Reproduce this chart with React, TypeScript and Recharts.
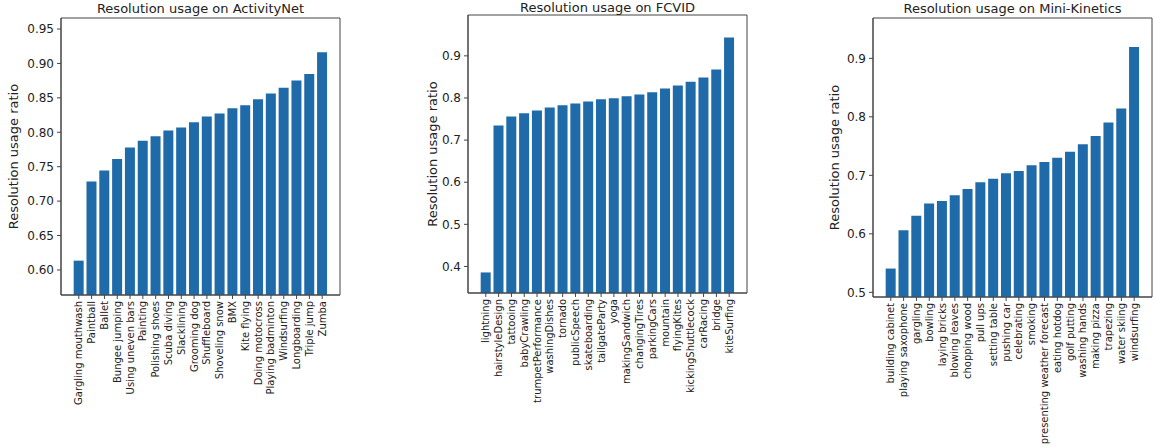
import React from "react";
import { BarChart, Bar, XAxis, YAxis, CartesianGrid } from "recharts";

const activityNetLabels = [
  "Gargling mouthwash", "Paintball", "Ballet", "Bungee jumping", "Using uneven bars",
  "Painting", "Polishing shoes", "Scuba diving", "Slacklining", "Grooming dog",
  "Shuffleboard", "Shoveling snow", "BMX", "Kite flying", "Doing motocross",
  "Playing badminton", "Windsurfing", "Longboarding", "Triple jump", "Zumba",
];
const activityNetValues = [
  0.6135, 0.7284, 0.7443, 0.7613, 0.7778, 0.7875, 0.7943, 0.8025, 0.8068, 0.8147,
  0.8228, 0.8272, 0.835, 0.8394, 0.848, 0.8563, 0.8645, 0.8752, 0.8845, 0.9164,
];
const activityNetTicks = [0.6, 0.65, 0.7, 0.75, 0.8, 0.85, 0.9, 0.95];

const fcvidLabels = [
  "lightning", "hairstyleDesign", "tattooing", "babyCrawling", "trumpetPerformance",
  "washingDishes", "tornado", "publicSpeech", "skateboarding", "tailgateParty",
  "yoga", "makingSandwich", "changingTires", "parkingCars", "mountain",
  "flyingKites", "kickingShuttlecock", "carRacing", "bridge", "kiteSurfing",
];
const fcvidValues = [
  0.3858, 0.7346, 0.756, 0.764, 0.77, 0.7773, 0.783, 0.7868, 0.7915, 0.7972,
  0.7996, 0.8043, 0.8082, 0.8138, 0.8224, 0.8295, 0.8383, 0.8485, 0.8675, 0.9434,
];
const fcvidTicks = [0.4, 0.5, 0.6, 0.7, 0.8, 0.9];

const kineticsLabels = [
  "building cabinet", "playing saxophone", "gargling", "bowling", "laying bricks",
  "blowing leaves", "chopping wood", "pull ups", "setting table", "pushing car",
  "celebrating", "smoking", "presenting weather forecast", "eating hotdog", "golf putting",
  "washing hands", "making pizza", "trapezing", "water skiing", "windsurfing",
];
const kineticsValues = [
  0.5406, 0.6063, 0.6308, 0.652, 0.656, 0.6658, 0.6766, 0.688, 0.6943, 0.7035,
  0.7074, 0.7171, 0.7228, 0.7302, 0.7405, 0.7531, 0.7674, 0.7903, 0.8143, 0.9196,
];
const kineticsTicks = [0.5, 0.6, 0.7, 0.8, 0.9];

const FONT = "'DejaVu Sans', sans-serif";
const BAR = "#1f6aa8";
const AXIS = "#444";

type PanelProps = {
  labels: string[];
  values: number[];
  ticks: number[];
  domain: [number, number];
  digits: number;
  left: number;
  width: number;
  plotLeft: number;
  plotRight: number;
  plotTop: number;
  plotBottom: number;
};

const XTick = (props: any) => {
  const { x, y, payload } = props;
  return (
    <text
      transform={`translate(${x},${y}) rotate(-90)`}
      textAnchor="end"
      dominantBaseline="central"
      fontSize={10}
      fontFamily={FONT}
      fill="#222"
    >
      {payload.value}
    </text>
  );
};

const frameH = (args: any) => {
  const o = args.offset;
  return [o.top, o.top + o.height];
};
const frameV = (args: any) => {
  const o = args.offset;
  return [o.left, o.left + o.width];
};

function Panel(p: PanelProps) {
  const H = 448;
  const data = p.labels.map((name, i) => ({ name, value: p.values[i] }));
  const yw = p.plotLeft - p.left;
  const right = p.left + p.width - p.plotRight;
  const plotW = p.plotRight - p.plotLeft;
  const pad = (plotW - (plotW / 21.78) * 20) / 2;
  return (
    <div style={{ position: "absolute", left: p.left, top: 0 }}>
      <BarChart
        width={p.width}
        height={H}
        data={data}
        margin={{ top: p.plotTop, right, bottom: 0, left: 0 }}
        barCategoryGap="10%"
      >
        <CartesianGrid
          stroke={AXIS}
          fill="none"
          horizontalCoordinatesGenerator={frameH}
          verticalCoordinatesGenerator={frameV}
        />
        <XAxis
          dataKey="name"
          interval={0}
          height={H - p.plotBottom}
          padding={{ left: pad, right: pad }}
          tick={<XTick />}
          tickSize={4}
          tickMargin={2}
          axisLine={{ stroke: AXIS }}
          tickLine={{ stroke: AXIS }}
        />
        <YAxis
          type="number"
          domain={p.domain}
          ticks={p.ticks}
          allowDataOverflow
          width={yw}
          tickSize={4}
          tickMargin={3}
          tickFormatter={(v: number) => v.toFixed(p.digits)}
          tick={{ fontSize: 12, fontFamily: FONT, fill: "#222" }}
          axisLine={{ stroke: AXIS }}
          tickLine={{ stroke: AXIS }}
        />
        <Bar dataKey="value" fill={BAR} isAnimationActive={false} />
      </BarChart>
    </div>
  );
}

const titles = [
  { text: "Resolution usage on ActivityNet", x: 200.5, y: 12.5, lx: 13.5, ly: 156.5 },
  { text: "Resolution usage on FCVID", x: 607.5, y: 11.5, lx: 432.5, ly: 154 },
  { text: "Resolution usage on Mini-Kinetics", x: 1012.5, y: 12.5, lx: 834, ly: 157.5 },
];

export default function App() {
  return (
    <div
      style={{
        position: "absolute",
        left: 0,
        top: 0,
        width: 1156,
        height: 448,
        background: "#fff",
        overflow: "hidden",
      }}
    >
      <Panel
        labels={activityNetLabels}
        values={activityNetValues}
        ticks={activityNetTicks}
        domain={[0.5636, 0.966]}
        digits={2}
        left={0}
        width={350}
        plotLeft={61}
        plotRight={340}
        plotTop={18}
        plotBottom={295}
      />
      <Panel
        labels={fcvidLabels}
        values={fcvidValues}
        ticks={fcvidTicks}
        domain={[0.337, 0.997]}
        digits={1}
        left={400}
        width={360}
        plotLeft={468}
        plotRight={747}
        plotTop={15}
        plotBottom={293}
      />
      <Panel
        labels={kineticsLabels}
        values={kineticsValues}
        ticks={kineticsTicks}
        domain={[0.492, 0.969]}
        digits={1}
        left={790}
        width={366}
        plotLeft={873}
        plotRight={1152}
        plotTop={18}
        plotBottom={297}
      />
      <svg
        width={1156}
        height={448}
        style={{ position: "absolute", left: 0, top: 0, pointerEvents: "none" }}
      >
        {titles.map((t) => (
          <g key={t.text}>
            <text x={t.x} y={t.y} textAnchor="middle" fontSize={13} fontFamily={FONT} fill="#222">
              {t.text}
            </text>
            <text
              transform={`translate(${t.lx},${t.ly}) rotate(-90)`}
              textAnchor="middle"
              dominantBaseline="central"
              fontSize={13}
              fontFamily={FONT}
              fill="#222"
            >
              Resolution usage ratio
            </text>
          </g>
        ))}
      </svg>
    </div>
  );
}
